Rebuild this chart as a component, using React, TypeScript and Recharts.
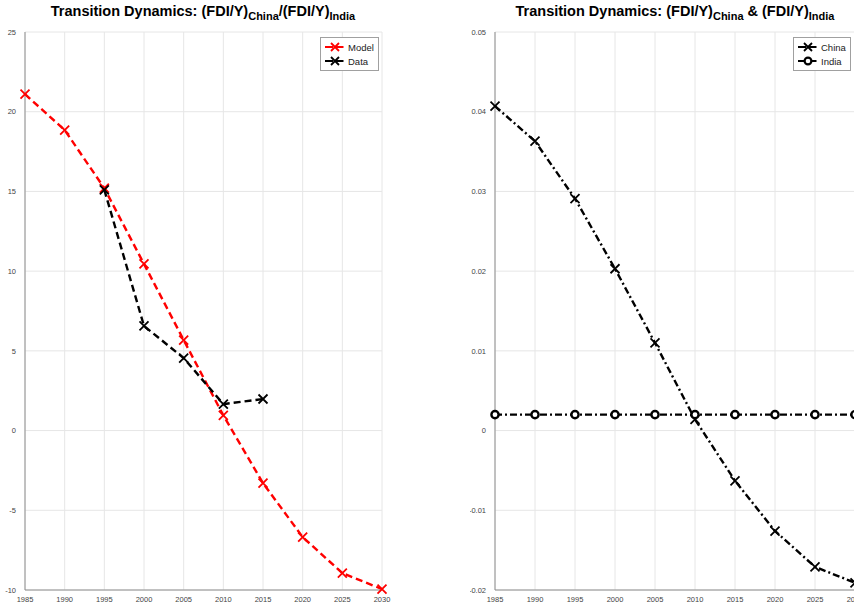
import { LineChart, Line, XAxis, YAxis, CartesianGrid } from 'recharts';

const years = [1985, 1990, 1995, 2000, 2005, 2010, 2015, 2020, 2025, 2030];
const modelRatio = [21.1, 18.85, 15.2, 10.45, 5.68, 0.95, -3.3, -6.68, -8.94, -9.94];
const dataRatio = [null, null, 15.1, 6.56, 4.55, 1.66, 1.98, null, null, null];
const chinaFdi = [0.0407, 0.0363, 0.0291, 0.0203, 0.011, 0.0014, -0.0063, -0.0126, -0.0171, -0.0191];
const indiaFdi = [0.002, 0.002, 0.002, 0.002, 0.002, 0.002, 0.002, 0.002, 0.002, 0.002];

const yearTicks = years;
const ratioTicks = [-10, -5, 0, 5, 10, 15, 20, 25];
const fdiTicks = [-0.02, -0.01, 0, 0.01, 0.02, 0.03, 0.04, 0.05];

const ratioRows = years.map((year, i) => ({ year, model: modelRatio[i], data: dataRatio[i] }));
const fdiRows = years.map((year, i) => ({ year, china: chinaFdi[i], india: indiaFdi[i] }));

const FONT = '"Liberation Sans", Arial, Helvetica, sans-serif';
const AXIS = '#8e8e8e';
const GRID = '#e6e6e6';
const tickStyle = { fontSize: 7.5, fill: '#444', fontFamily: FONT };

// matlab style 'x' marker
function XDot(props: any) {
  const { cx, cy, value, stroke, index } = props;
  if (value == null || cx == null || cy == null) return <g key={index} />;
  const s = 4.5;
  return (
    <path
      key={index}
      d={`M${cx - s},${cy - s}L${cx + s},${cy + s}M${cx - s},${cy + s}L${cx + s},${cy - s}`}
      stroke={stroke}
      strokeWidth={1.8}
      fill="none"
    />
  );
}

function ODot(props: any) {
  const { cx, cy, value, stroke, index } = props;
  if (value == null || cx == null || cy == null) return <g key={index} />;
  return <circle key={index} cx={cx} cy={cy} r={3.6} stroke={stroke} strokeWidth={2.4} fill="#fff" />;
}

function LegendBox({ items, style }: { items: { label: string; color: string; marker: 'x' | 'o' }[]; style: any }) {
  return (
    <div
      style={{
        position: 'absolute',
        background: '#fff',
        border: '1px solid #a0a0a0',
        padding: '2px 4px 2px 3px',
        fontFamily: FONT,
        fontSize: 9.5,
        color: '#222',
        ...style,
      }}
    >
      {items.map((it) => (
        <div key={it.label} style={{ display: 'flex', alignItems: 'center', height: 14 }}>
          <svg width={22} height={12} style={{ marginRight: 2 }}>
            <line x1={1} y1={6} x2={21} y2={6} stroke={it.color} strokeWidth={2.2} strokeDasharray="8 2.5" />
            {it.marker === 'x' ? (
              <path d="M7,2L15,10M7,10L15,2" stroke={it.color} strokeWidth={1.8} fill="none" />
            ) : (
              <circle cx={11} cy={6} r={3.4} stroke={it.color} strokeWidth={2.2} fill="#fff" />
            )}
          </svg>
          {it.label}
        </div>
      ))}
    </div>
  );
}

const titleStyle: any = {
  position: 'absolute',
  top: 3,
  textAlign: 'center',
  fontWeight: 'bold',
  fontSize: 14.5,
  color: '#000',
  whiteSpace: 'nowrap',
};

export default function App() {
  return (
    <div
      style={{
        position: 'absolute',
        left: 0,
        top: 0,
        width: 854,
        height: 606,
        overflow: 'hidden',
        background: '#fff',
        fontFamily: FONT,
      }}
    >
      {/* left: ratio */}
      <div style={{ position: 'absolute', left: 0, top: 0 }}>
        <LineChart width={430} height={606} data={ratioRows} margin={{ top: 32, right: 48, bottom: 0, left: 0 }}>
          <CartesianGrid stroke={GRID} strokeWidth={1} />
          <XAxis
            dataKey="year"
            type="number"
            domain={[1985, 2030]}
            ticks={yearTicks}
            height={16}
            tick={tickStyle}
            tickLine={false}
            tickMargin={1}
            axisLine={{ stroke: AXIS }}
          />
          <XAxis xAxisId="top" dataKey="year" type="number" domain={[1985, 2030]} orientation="top" height={0} tick={false} tickLine={false} axisLine={{ stroke: AXIS }} />
          <YAxis
            type="number"
            domain={[-10, 25]}
            ticks={ratioTicks}
            width={25}
            tick={tickStyle}
            tickLine={false}
            tickMargin={3}
            axisLine={{ stroke: AXIS }}
          />
          <YAxis yAxisId="r" orientation="right" type="number" domain={[-10, 25]} width={0} tick={false} tickLine={false} axisLine={{ stroke: AXIS }} />
          <Line
            dataKey="model"
            stroke="#ff0000"
            strokeWidth={2.4}
            strokeDasharray="7 4"
            dot={<XDot />}
            isAnimationActive={false}
          />
          <Line
            dataKey="data"
            stroke="#000"
            strokeWidth={2.4}
            strokeDasharray="7 4"
            dot={<XDot />}
            connectNulls={false}
            isAnimationActive={false}
          />
        </LineChart>
      </div>
      <div style={{ ...titleStyle, left: 0, width: 406 }}>
        Transition Dynamics: (FDI/Y)<sub style={{ fontSize: 11 }}>China</sub>/(FDI/Y)<sub style={{ fontSize: 11 }}>India</sub>
      </div>
      <LegendBox
        style={{ left: 320, top: 37 }}
        items={[
          { label: 'Model', color: '#ff0000', marker: 'x' },
          { label: 'Data', color: '#000', marker: 'x' },
        ]}
      />

      {/* right: FDI/Y levels */}
      <div style={{ position: 'absolute', left: 470, top: 0 }}>
        <LineChart width={400} height={606} data={fdiRows} margin={{ top: 32, right: 15, bottom: 0, left: 0 }}>
          <CartesianGrid stroke={GRID} strokeWidth={1} />
          <XAxis
            dataKey="year"
            type="number"
            domain={[1985, 2030]}
            ticks={yearTicks}
            height={16}
            tick={tickStyle}
            tickLine={false}
            tickMargin={1}
            axisLine={{ stroke: AXIS }}
          />
          <XAxis xAxisId="top" dataKey="year" type="number" domain={[1985, 2030]} orientation="top" height={0} tick={false} tickLine={false} axisLine={{ stroke: AXIS }} />
          <YAxis
            type="number"
            domain={[-0.02, 0.05]}
            ticks={fdiTicks}
            width={25}
            tick={tickStyle}
            tickLine={false}
            tickMargin={3}
            axisLine={{ stroke: AXIS }}
          />
          <Line
            dataKey="china"
            stroke="#000"
            strokeWidth={2.4}
            strokeDasharray="7 3 2 3"
            dot={<XDot />}
            isAnimationActive={false}
          />
          <Line
            dataKey="india"
            stroke="#000"
            strokeWidth={2.4}
            strokeDasharray="7 3 2 3"
            dot={<ODot />}
            isAnimationActive={false}
          />
        </LineChart>
      </div>
      <div style={{ ...titleStyle, left: 495, width: 360 }}>
        Transition Dynamics: (FDI/Y)<sub style={{ fontSize: 11 }}>China</sub> &amp; (FDI/Y)<sub style={{ fontSize: 11 }}>India</sub>
      </div>
      <LegendBox
        style={{ left: 793, top: 37 }}
        items={[
          { label: 'China', color: '#000', marker: 'x' },
          { label: 'India', color: '#000', marker: 'o' },
        ]}
      />
    </div>
  );
}
